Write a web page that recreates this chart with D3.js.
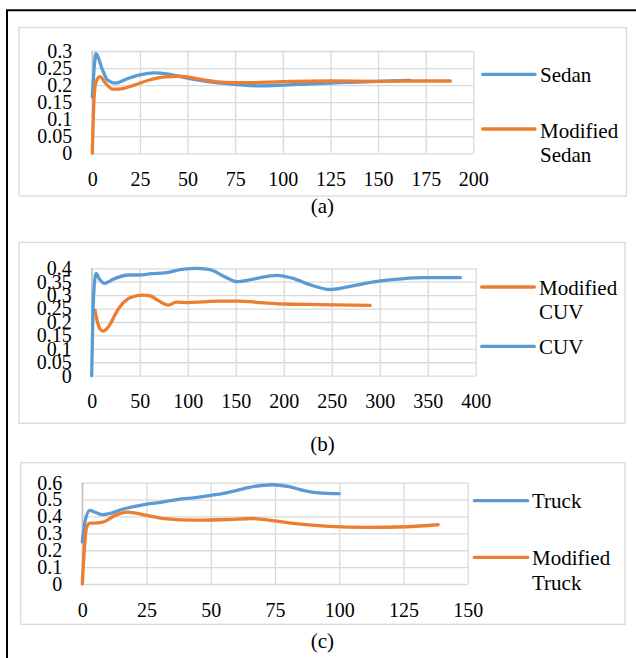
<!DOCTYPE html>
<html>
<head>
<meta charset="utf-8">
<script src="https://cdn.jsdelivr.net/npm/d3@7"></script>
<style>
  body { margin: 0; background: #fff; }
  svg text { font-family: "Liberation Serif", "Times New Roman", Times, "DejaVu Serif", serif; fill: #000; }
</style>
</head>
<body>
<svg id="fig" width="636" height="658"></svg>
<script>
// Datos (tiempo, valor).

const sedan = [[0,0.165],[2,0.292],[5,0.25],[8,0.215],[12,0.206],[18,0.218],[25,0.23],[32,0.236],
  [40,0.232],[47,0.224],[55,0.215],[65,0.207],[75,0.202],[87,0.198],[100,0.2],[115,0.204],
  [130,0.207],[150,0.211],[167,0.214]];
const modSedan = [[0,0],[1,0.17],[2,0.21],[4,0.225],[7,0.205],[11,0.188],[16,0.19],[22,0.2],
  [30,0.215],[38,0.224],[45,0.226],[52,0.222],[60,0.214],[70,0.208],[80,0.207],[100,0.21],
  [125,0.212],[150,0.211],[170,0.212],[188,0.212]];

const modCuv = [[3.5,0.243],[6,0.2],[9,0.172],[12,0.166],[15.5,0.174],[19,0.19],[24,0.225],
  [28,0.25],[38,0.287],[46,0.297],[54,0.3],[61,0.297],[71,0.276],[80,0.263],[88,0.274],
  [100,0.272],[115,0.275],[132,0.278],[153,0.278],[177,0.272],[201,0.267],[236,0.265],[290,0.262]];
const cuv = [[0,0],[2,0.3],[4.5,0.381],[8,0.36],[13.5,0.344],[20,0.355],[28,0.367],[38,0.375],
  [50,0.375],[62,0.38],[76,0.383],[94,0.396],[108,0.4],[122,0.396],[139,0.368],[151,0.35],
  [167,0.359],[193,0.374],[208,0.364],[229,0.337],[248,0.321],[271,0.334],[299,0.352],
  [323,0.361],[347,0.365],[384,0.365]];

const truck = [[0,0.25],[1.2,0.38],[2.9,0.436],[5,0.425],[8,0.411],[11,0.418],[15,0.44],[20,0.458],
  [24,0.47],[31,0.485],[37,0.5],[44,0.512],[50,0.525],[56,0.54],[61,0.558],[67,0.578],[74,0.588],
  [80,0.578],[86,0.555],[92,0.54],[100,0.535]];
const modTruck = [[0,0],[1,0.25],[1.6,0.33],[2.9,0.36],[6,0.362],[8.7,0.37],[12.6,0.405],[17.8,0.426],
  [24,0.41],[32,0.387],[44,0.378],[57,0.382],[66,0.388],[74,0.376],[83,0.357],[96,0.341],
  [111,0.335],[126,0.339],[138.5,0.351]];

// Ejes
const xTicksA = d3.range(0, 201, 25);
const yTicksA = [0, 0.05, 0.1, 0.15, 0.2, 0.25, 0.3];
const xTicksB = d3.range(0, 401, 50);
const yTicksB = [0, 0.05, 0.1, 0.15, 0.2, 0.25, 0.3, 0.35, 0.4];
const xTicksC = d3.range(0, 151, 25);
const yTicksC = [0, 0.1, 0.2, 0.3, 0.4, 0.5, 0.6];

const BLUE = "#5b9bd5";
const ORANGE = "#ed7d31";
const FONT = '"Liberation Serif", "Times New Roman", Times, "DejaVu Serif", serif';

const svg = d3.select("#fig");

// marco exterior
svg.append("path")
  .attr("d", "M7,658 V10.3 H636")
  .attr("fill", "none")
  .attr("stroke", "#000")
  .attr("stroke-width", 2);

const panels = [
  {
    box: [19, 27.5, 626.5, 196],
    plot: { left: 92.3, top: 51, right: 473.3, bottom: 153.3 },
    xTicks: xTicksA, yTicks: yTicksA,
    series: [{ data: sedan, color: BLUE }, { data: modSedan, color: ORANGE }],
    legendLine: [482.7, 535], legendText: 540,
    legend: [
      { color: BLUE, ly: 74.3, lines: [["Sedan", 82]] },
      { color: ORANGE, ly: 129, lines: [["Modified", 137.5], ["Sedan", 162]] }
    ],
    caption: "(a)", capY: 213
  },
  {
    box: [19, 242.3, 625, 423.3],
    plot: { left: 91.7, top: 268.3, right: 475.7, bottom: 375.7 },
    xTicks: xTicksB, yTicks: yTicksB,
    series: [{ data: modCuv, color: ORANGE }, { data: cuv, color: BLUE }],
    legendLine: [481.7, 534.3], legendText: 539,
    legend: [
      { color: ORANGE, ly: 287, lines: [["Modified", 295], ["CUV", 319.3]] },
      { color: BLUE, ly: 346.3, lines: [["CUV", 354]] }
    ],
    caption: "(b)", capY: 451
  },
  {
    box: [20.7, 462.7, 625, 624.3],
    plot: { left: 82.3, top: 482.7, right: 467.7, bottom: 584 },
    xTicks: xTicksC, yTicks: yTicksC,
    series: [{ data: truck, color: BLUE }, { data: modTruck, color: ORANGE }],
    legendLine: [474.3, 527.7], legendText: 532,
    legend: [
      { color: BLUE, ly: 500.7, lines: [["Truck", 508.3]] },
      { color: ORANGE, ly: 557.3, lines: [["Modified", 565], ["Truck", 590]] }
    ],
    caption: "(c)", capY: 648
  }
];

const fmt = d => String(+d.toFixed(2));

panels.forEach(p => {
  const [bx0, by0, bx1, by1] = p.box;
  svg.append("rect")
    .attr("x", bx0).attr("y", by0)
    .attr("width", bx1 - bx0).attr("height", by1 - by0)
    .attr("fill", "#fff")
    .attr("stroke", "#d9d9d9")
    .attr("stroke-width", 1.3);

  const w = p.plot.right - p.plot.left;
  const h = p.plot.bottom - p.plot.top;

  const x = d3.scaleLinear()
    .domain([0, d3.max(p.xTicks)])
    .range([0, w]);
  const y = d3.scaleLinear()
    .domain([0, d3.max(p.yTicks)])
    .range([h, 0]);

  const g = svg.append("g")
    .attr("transform", `translate(${p.plot.left}, ${p.plot.top})`);

  const xAxis = g.append("g")
    .attr("transform", `translate(0, ${h})`)
    .call(d3.axisBottom(x).tickValues(p.xTicks).tickSize(-h).tickPadding(18.6));
  const yAxis = g.append("g")
    .call(d3.axisLeft(y).tickValues(p.yTicks).tickFormat(fmt).tickSize(-w).tickPadding(20));

  [xAxis, yAxis].forEach(a => {
    a.attr("font-family", FONT);
    a.select(".domain").remove();
    a.selectAll("line")
      .attr("stroke", "#d9d9d9")
      .attr("stroke-width", 1.3);
    a.selectAll("text")
      .attr("font-size", 20)
      .style("font-family", FONT)
      .attr("fill", "#000");
  });

  // linea del eje vertical
  g.append("line")
    .attr("x1", 0).attr("x2", 0)
    .attr("y1", 0).attr("y2", h)
    .attr("stroke", "#bfbfbf")
    .attr("stroke-width", 1.3);

  const line = d3.line()
    .x(d => x(d[0]))
    .y(d => y(d[1]))
    .curve(d3.curveMonotoneX);

  p.series.forEach(s => {
    g.append("path")
      .datum(s.data)
      .attr("d", line)
      .attr("fill", "none")
      .attr("stroke", s.color)
      .attr("stroke-width", 3.3)
      .attr("stroke-linecap", "round")
      .attr("stroke-linejoin", "round");
  });

  // leyenda
  p.legend.forEach(l => {
    svg.append("line")
      .attr("x1", p.legendLine[0]).attr("x2", p.legendLine[1])
      .attr("y1", l.ly).attr("y2", l.ly)
      .attr("stroke", l.color)
      .attr("stroke-width", 3.3)
      .attr("stroke-linecap", "round");
    l.lines.forEach(([txt, ty]) => {
      svg.append("text")
        .attr("x", p.legendText)
        .attr("y", ty)
        .attr("font-size", 21)
        .style("font-family", FONT)
        .text(txt);
    });
  });

  svg.append("text")
    .attr("x", 322.4)
    .attr("y", p.capY)
    .attr("text-anchor", "middle")
    .attr("font-size", 21)
    .style("font-family", FONT)
    .text(p.caption);
});
</script>
</body>
</html>
